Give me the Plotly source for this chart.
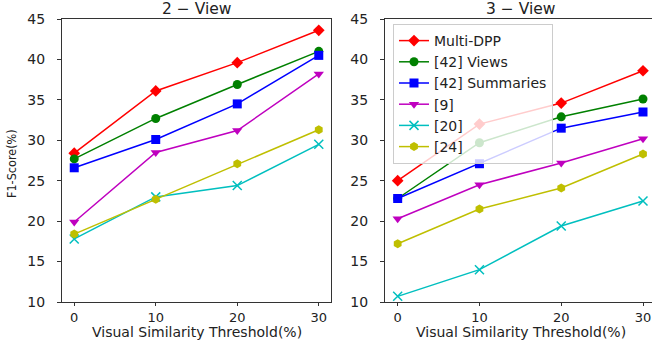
import plotly.graph_objects as go

thresholds = [0, 10, 20, 30]
series_names = ["Multi-DPP", "[42] Views", "[42] Summaries", "[9]", "[20]", "[24]"]
view2 = {
    "Multi-DPP": [28.4, 36.1, 39.6, 43.6],
    "[42] Views": [27.7, 32.7, 36.9, 41.0],
    "[42] Summaries": [26.6, 30.1, 34.5, 40.5],
    "[9]": [19.9, 28.5, 31.2, 38.2],
    "[20]": [17.8, 23.0, 24.4, 29.5],
    "[24]": [18.4, 22.7, 27.1, 31.3],
}
view3 = {
    "Multi-DPP": [25.0, 32.0, 34.6, 38.6],
    "[42] Views": [22.8, 29.7, 32.9, 35.1],
    "[42] Summaries": [22.8, 27.1, 31.5, 33.5],
    "[9]": [20.3, 24.5, 27.2, 30.2],
    "[20]": [10.7, 14.0, 19.4, 22.5],
    "[24]": [17.2, 21.5, 24.1, 28.3],
}
colors = ["#FF0000", "#008000", "#0000FF", "#BF00BF", "#00BFBF", "#BFBF00"]
symbols = ["diamond", "circle", "square", "triangle-down", "x-thin", "hexagon"]
msizes = [9, 9, 9, 9, 9, 9]
titles = ["2 \u2212 View", "3 \u2212 View"]
x_title = "Visual Similarity Threshold(%)"
y_title = "F1-Score(%)"
y_ticks = [10, 15, 20, 25, 30, 35, 40, 45]

fig = go.Figure()
for k, data in enumerate([view2, view3]):
    xa = "x" if k == 0 else "x2"
    ya = "y" if k == 0 else "y2"
    for i, name in enumerate(series_names):
        sym = symbols[i]
        fig.add_trace(go.Scatter(
            x=thresholds, y=data[name], name=name, mode="lines+markers",
            xaxis=xa, yaxis=ya, showlegend=(k == 1), cliponaxis=False,
            line=dict(color=colors[i], width=1.5),
            marker=dict(symbol=sym, size=msizes[i], color=colors[i],
                        line=dict(color=colors[i], width=1.5 if sym == "x-thin" else 0)),
        ))

W, H = 652, 341
ytop, ybot = 19, 302
yd = [1 - ybot / H, 1 - ytop / H]
font = "DejaVu Sans"
txt = "#222222"
axcommon = dict(showline=True, linecolor="#333333", linewidth=1, ticks="outside",
                tickcolor="#333333", showgrid=False, zeroline=False,
                automargin=False)
xtickfont = dict(family=font, size=13, color=txt)
ytickfont = dict(family=font, size=14, color=txt)

fig.update_layout(
    width=W, height=H, margin=dict(l=0, r=0, t=0, b=0, autoexpand=False),
    plot_bgcolor="white", paper_bgcolor="white",
    xaxis=dict(domain=[62 / W, 331 / W], range=[-1.5, 31.5], anchor="y",
               tickvals=thresholds, mirror=True, ticklen=3, ticklabelstandoff=0,
               tickfont=xtickfont, **axcommon),
    yaxis=dict(domain=yd, range=[10, 45], anchor="x", tickvals=y_ticks,
               mirror=True, ticklen=4, ticklabelstandoff=9, tickfont=ytickfont, **axcommon),
    xaxis2=dict(domain=[385 / W, 1.0], range=[-1.55, 31.1], anchor="y2",
                tickvals=thresholds, mirror=True, ticklen=3, ticklabelstandoff=0,
                tickfont=xtickfont, **axcommon),
    yaxis2=dict(domain=yd, range=[10, 45], anchor="x2", tickvals=y_ticks,
                ticklen=4, ticklabelstandoff=9, tickfont=ytickfont, **axcommon),
    legend=dict(x=393 / W, y=1 - 24 / H, xanchor="left", yanchor="top",
                bgcolor="rgba(255,255,255,0.8)", bordercolor="#cccccc", borderwidth=1,
                font=dict(family=font, size=14, color=txt),
                tracegroupgap=0, itemwidth=30),
    showlegend=True,
)

def ann(text, xp, yp, **kw):
    fig.add_annotation(text=text, x=xp / W, y=1 - yp / H, xref="paper", yref="paper",
                       xanchor="center", yanchor="middle", showarrow=False, **kw)

ann(titles[0], (62 + 331) / 2, 9, font=dict(family=font, size=15.5, color=txt))
ann(titles[1], (385 + 656) / 2, 9, font=dict(family=font, size=15.5, color=txt))
ann(x_title, (74 + 319) / 2, 332, font=dict(family=font, size=14, color=txt))
ann(x_title, (398 + 643) / 2, 332, font=dict(family=font, size=14, color=txt))
ann(y_title, 11, 164, textangle=-90,
    font=dict(family="DejaVu Sans Condensed", size=12.5, color=txt))

fig.write_html("out.html", config={"displayModeBar": False},
               post_script="document.body.style.margin='0';document.body.style.overflow='hidden';")
